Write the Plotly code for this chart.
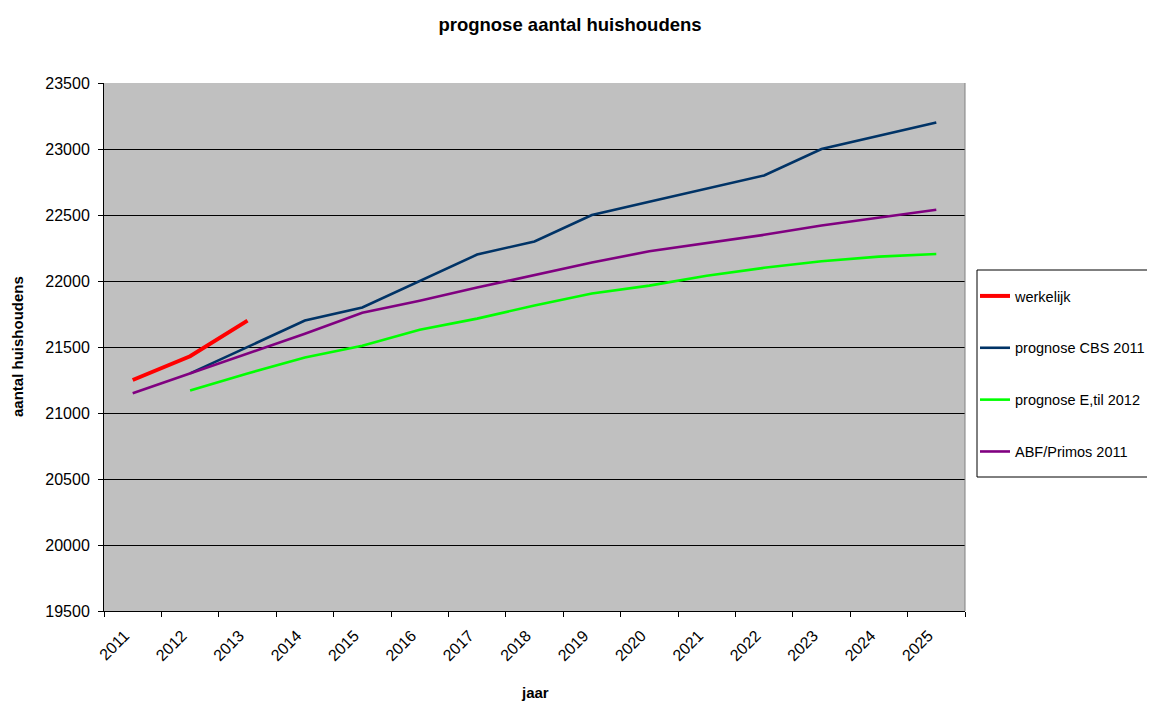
import plotly.graph_objects as go

years = [str(y) for y in range(2011, 2026)]

werkelijk = [21250, 21430, 21700] + [None] * 12
cbs_2011 = [None, 21300, 21500, 21700, 21800, 22000, 22200, 22300, 22500,
            22600, 22700, 22800, 23000, 23100, 23200]
etil_2012 = [None, 21170, 21300, 21420, 21510, 21630, 21715, 21815, 21905,
             21965, 22040, 22100, 22150, 22185, 22205]
abf_2011 = [21150, 21300, 21450, 21600, 21760, 21850, 21950, 22045, 22140,
            22225, 22285, 22350, 22420, 22480, 22540]

series_names = ["werkelijk", "prognose CBS 2011", "prognose E,til 2012", "ABF/Primos 2011"]
series_values = [werkelijk, cbs_2011, etil_2012, abf_2011]
series_colors = ["#FF0000", "#003366", "#00FF00", "#800080"]
series_widths = [4, 2.6, 2.6, 2.6]

FONT = "Liberation Sans, Arial, sans-serif"

# page has an 8px body margin; figure sized so it ends at the window edge
W, H = 1147, 696
L, T = 96, 75
PW, PH = 861, 528
R = W - L - PW
B = H - T - PH

fig = go.Figure()
for i, (name, vals, col, w) in enumerate(zip(series_names, series_values, series_colors, series_widths)):
    fig.add_trace(go.Scatter(
        x=years, y=vals, name=name, mode="lines",
        line=dict(color=col, width=w),
        connectgaps=False, legendgroup=f"g{i}",
    ))

fig.update_layout(
    width=W, height=H,
    margin=dict(l=L, r=R, t=T, b=B, autoexpand=False),
    paper_bgcolor="white",
    plot_bgcolor="#C0C0C0",
    font=dict(family=FONT, size=15, color="black"),
    title=dict(text="<b>prognose aantal huishoudens</b>", x=(570 - 8) / W, xanchor="center",
               y=1 - 17 / H, yanchor="middle", font=dict(size=18.5, family=FONT)),
    showlegend=True,
    legend=dict(
        x=(975 - 104) / PW, xanchor="left",
        y=(611 - 280) / PH, yanchor="top",
        bgcolor="rgba(0,0,0,0)", borderwidth=0,
        font=dict(size=14.5, family=FONT),
        tracegroupgap=30, itemwidth=30,
    ),
    xaxis=dict(
        type="category", range=[-0.5, 14.5], tickson="boundaries",
        ticks="outside", ticklen=5,
        tickcolor="black", tickangle=-45, showgrid=False,
        showline=True, linecolor="black", linewidth=1,
        tickfont=dict(size=16, family=FONT),
        ticklabelshift=-8, ticklabelstandoff=8,
    ),
    yaxis=dict(
        range=[19500, 23500], dtick=500, tick0=19500, tickformat="d",
        ticks="outside", ticklen=5, tickcolor="black",
        showgrid=True, gridcolor="black", gridwidth=1,
        showline=True, linecolor="black", linewidth=1,
        zeroline=False, tickfont=dict(size=16, family=FONT),
        ticklabelstandoff=5,
    ),
    annotations=[
        dict(text="<b>aantal huishoudens</b>", xref="paper", yref="paper",
             x=-(104 - 17) / PW, y=0.5, textangle=-90, showarrow=False,
             xanchor="center", yanchor="middle", font=dict(size=15, family=FONT)),
        dict(text="<b>jaar</b>", xref="paper", yref="paper",
             x=(535 - 104) / PW, y=-(692 - 611) / PH, showarrow=False,
             xanchor="center", yanchor="middle", font=dict(size=15, family=FONT)),
    ],
    shapes=[
        dict(type="line", xref="paper", yref="paper", x0=1, x1=1, y0=0, y1=1,
             line=dict(color="#808080", width=1)),
        dict(type="rect", xref="paper", yref="paper", layer="below",
             x0=(977 - 104) / PW, x1=(1170 - 104) / PW,
             y0=(611 - 477) / PH, y1=(611 - 270) / PH,
             line=dict(color="black", width=1), fillcolor="white"),
    ],
)

fig.write_html("out.html")
